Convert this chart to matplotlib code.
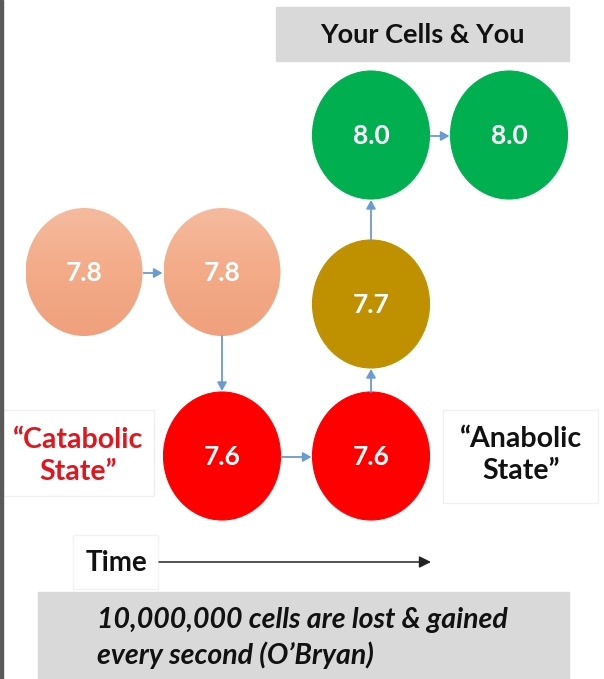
import numpy as np
import matplotlib
matplotlib.use("Agg")
import matplotlib.pyplot as plt
from matplotlib.patches import Ellipse, Rectangle, FancyArrowPatch
from matplotlib.colors import LinearSegmentedColormap

# ---- data ----
cell_values = ["7.8", "7.8", "7.6", "7.6", "7.7", "8.0", "8.0"]
cell_states = ["peach", "peach", "red", "red", "gold", "green", "green"]
title_text = "Your Cells & You"
left_label = "\u201cCatabolic\nState\u201d"
right_label = "\u201cAnabolic\nState\u201d"
axis_label = "Time"
footer_text = "10,000,000 cells are lost & gained\nevery second (O\u2019Bryan)"

# ---- layout / style ----
centers = [(84, 272), (222, 272), (222, 456), (371, 456), (371, 304), (371, 135), (509, 135)]
RX, RY = 58.5, 64
state_colors = {"red": "#ff0000", "gold": "#bf9000", "green": "#00b050"}
links = [(0, 1, "h"), (1, 2, "v"), (2, 3, "h"), (3, 4, "v"), (4, 5, "v"), (5, 6, "h")]
ARROW_C = "#6a9bd1"
FONT = "Lato"

W, H = 604, 679
fig = plt.figure(figsize=(W / 100, H / 100), dpi=100)
ax = fig.add_axes([0, 0, 1, 1])
ax.set_xlim(0, W)
ax.set_ylim(H, 0)
ax.axis("off")

# left border line
ax.add_patch(Rectangle((0, 0), 3, H, color="#5a5a5a", zorder=10))

# title box
ax.add_patch(Rectangle((276, 7), 293, 54, color="#d9d9d9", zorder=1))
ax.text(422, 35, title_text, ha="center", va="center", fontsize=19.5,
        fontweight="bold", family=FONT, color="#111111", zorder=5)

# cells
peach_cmap = LinearSegmentedColormap.from_list("peach", ["#f5bb9e", "#f3ab88", "#f0a07c"])
for (cx, cy), val, st in zip(centers, cell_values, cell_states):
    if st == "peach":
        e = Ellipse((cx, cy), 2 * RX, 2 * RY, facecolor="none", edgecolor="none", zorder=3)
        ax.add_patch(e)
        grad = np.linspace(0, 1, 256).reshape(-1, 1)
        im = ax.imshow(grad, cmap=peach_cmap, extent=(cx - RX, cx + RX, cy + RY, cy - RY),
                       aspect="auto", zorder=2, interpolation="bilinear")
        im.set_clip_path(e)
    else:
        col = state_colors[st]
        ax.add_patch(Ellipse((cx, cy), 2 * RX, 2 * RY, facecolor=col,
                             edgecolor=col, lw=0.8, zorder=3))
    ax.text(cx, cy + 1, val, ha="center", va="center", fontsize=19,
            fontweight="bold", family=FONT, color="white", zorder=5)

ax.set_xlim(0, W)
ax.set_ylim(H, 0)

# connecting arrows
for a, b, kind in links:
    (x1, y1), (x2, y2) = centers[a], centers[b]
    if kind == "h":
        start = (x1 + RX + 1, y1 + 1)
        end = (x2 - RX - 1, y2 + 1)
    else:
        if y2 > y1:
            start = (x1, y1 + RY)
            end = (x2, y2 - RY - 1)
        else:
            start = (x1, y1 - RY)
            end = (x2, y2 + RY + 1)
    ax.add_patch(FancyArrowPatch(start, end, arrowstyle="-|>,head_length=5,head_width=2.8",
                                 color=ARROW_C, lw=1.3, zorder=4, shrinkA=0, shrinkB=0))

# side label boxes
ax.add_patch(Rectangle((3, 410), 151, 86, facecolor="white", edgecolor="#f0f0f0", lw=1, zorder=1))
ax.text(78, 456, left_label, ha="center", va="center", fontsize=20.5, fontweight="bold",
        family=FONT, color="#e3141c", linespacing=1.27, zorder=5)
ax.add_patch(Rectangle((443, 410), 155, 93, facecolor="white", edgecolor="#f0f0f0", lw=1, zorder=1))
ax.text(521, 455, right_label, ha="center", va="center", fontsize=20.5, fontweight="bold",
        family=FONT, color="#111111", linespacing=1.27, zorder=5)

# time axis
ax.add_patch(Rectangle((73, 535), 85, 54, facecolor="white", edgecolor="#f2f2f2", lw=1, zorder=1))
ax.text(116, 563, axis_label, ha="center", va="center", fontsize=20, fontweight="bold",
        family=FONT, color="#111111", zorder=5)
ax.add_patch(FancyArrowPatch((159, 562), (431, 562), arrowstyle="-|>,head_length=7,head_width=3.5",
                             color="#222222", lw=1.1, zorder=4, shrinkA=0, shrinkB=0))

# footer
ax.add_patch(Rectangle((38, 592), 531, 90, color="#d9d9d9", zorder=1))
ax.text(97, 638, footer_text, ha="left", va="center", fontsize=20.5, fontweight="bold",
        fontstyle="italic", family=FONT, color="#111111", linespacing=1.4, zorder=5)

fig.savefig("out.png", dpi=100)
